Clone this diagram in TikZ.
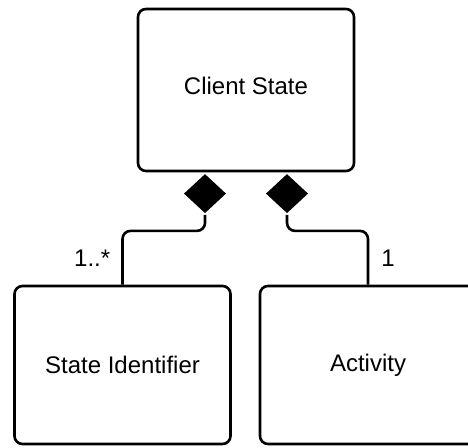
\documentclass[tikz,border=0pt]{standalone}
\usepackage{fontspec}
\setmainfont{Liberation Sans}
\usepackage{tikz}
\usetikzlibrary{positioning}
\usetikzlibrary{shapes.geometric}

\begin{document}
\begin{tikzpicture}[x=1pt, y=1pt, line width=2.6pt, font=\fontsize{24}{28}\selectfont,
		classbox/.style={draw, rounded corners=8pt, minimum width=216pt, inner sep=0pt},
		compo/.style={fill=black, diamond, minimum width=43pt, minimum height=40pt, inner sep=0pt},
		mult/.style={inner sep=0pt}]
		\useasboundingbox (0,0) rectangle (468,447);
		\clip (0,0) rectangle (468,447);
		\node[classbox, minimum height=162pt, text depth=8pt] (state) at (246,357) {Client State};
		\node[classbox, minimum height=158pt] (ident) at (122.5,82) {State Identifier};
		\node[classbox, minimum height=158pt] (act) at (368,82) {Activity};
		\node[compo] (dl) [below=0pt of state.south, xshift=-41pt] {};
		\node[compo] (dr) [below=0pt of state.south, xshift=41pt] {};
		\draw[rounded corners=8pt] (dl.south) -- ++(0,-16) -| (ident.north);
		\draw[rounded corners=8pt] (dr.south) -- ++(0,-16) -| (act.north);
		\node[mult] (many) [above left=17pt and 11pt of ident.north] {1..*};
		\node[mult] (one) [above right=17pt and 12pt of act.north] {1};
	\end{tikzpicture}
\end{document}
